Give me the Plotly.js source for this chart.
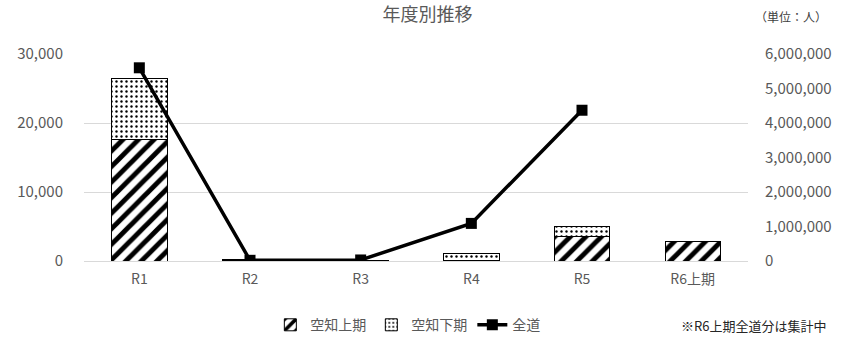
<!DOCTYPE html>
<html>
<head>
<meta charset="utf-8">
<script src="https://cdn.plot.ly/plotly-3.0.1.min.js"></script>
<style>html,body{margin:0;padding:0;background:#fff;}</style>
</head>
<body>
<div id="chart" style="width:855px;height:337px;"></div>
<script>
const categories = ["R1", "R2", "R3", "R4", "R5", "R6上期"];
const sorachiFirstHalf = [17660, 60, 40, 80, 3480, 2760];
const sorachiSecondHalf = [8810, 90, 60, 990, 1450, null];
const hokkaidoTotal = [5600000, 20000, 30000, 1090000, 4370000, null];
const leftTicks = [0, 10000, 20000, 30000];
const rightTicks = [0, 1000000, 2000000, 3000000, 4000000, 5000000, 6000000];

const FONT = '"Noto Sans CJK JP", "Noto Sans", sans-serif';
const GREY = '#595959';

const traces = [
  {
    type: 'bar', name: '空知上期', x: categories, y: sorachiFirstHalf,
    width: 0.5,
    marker: {color: 'white', line: {color: 'black', width: 1},
      pattern: {shape: '/', fgcolor: 'black', bgcolor: 'white', size: 11, solidity: 0.45}},
    hoverinfo: 'none'
  },
  {
    type: 'bar', name: '空知下期', x: categories, y: sorachiSecondHalf,
    width: 0.5,
    marker: {color: 'white', line: {color: 'black', width: 1},
      pattern: {shape: '.', fgcolor: 'black', bgcolor: 'white', size: 5, solidity: 0.18}},
    hoverinfo: 'none'
  },
  {
    type: 'scatter', mode: 'lines+markers', name: '全道', x: categories, y: hokkaidoTotal,
    yaxis: 'y2', connectgaps: false,
    line: {color: 'black', width: 3.5},
    marker: {symbol: 'square', size: 11, color: 'black'},
    hoverinfo: 'none'
  }
];

const layout = {
  width: 855, height: 337,
  margin: {l: 84, r: 107, t: 54, b: 76},
  paper_bgcolor: 'white', plot_bgcolor: 'white',
  font: {family: FONT, color: GREY, size: 12},
  barmode: 'stack',
  showlegend: true,
  title: {text: '年度別推移', x: 0.5, xref: 'container', y: 0.955, yref: 'container', yanchor: 'middle',
    font: {family: FONT, size: 18, color: GREY}},
  xaxis: {type: 'category', showgrid: false, zeroline: false, showline: false, ticks: '',
    tickfont: {size: 14, color: GREY}, ticklabelstandoff: 8},
  yaxis: {range: [0, 30000], tickvals: leftTicks, tickformat: ',d', showgrid: true, gridcolor: '#d9d9d9',
    gridwidth: 1, zeroline: true, zerolinecolor: '#d9d9d9', showline: false, ticks: '',
    tickfont: {size: 15, color: GREY}, ticklabelstandoff: 20},
  yaxis2: {overlaying: 'y', side: 'right', range: [0, 6000000], tickvals: rightTicks, tickformat: ',d',
    showgrid: false, zeroline: false, showline: false, ticks: '',
    tickfont: {size: 15, color: GREY}, ticklabelstandoff: 16},
  legend: {orientation: 'h', x: 0.477, xref: 'container', xanchor: 'center', y: 0.035, yref: 'container', yanchor: 'middle',
    font: {size: 14, color: GREY}, traceorder: 'normal', itemwidth: 30},
  annotations: [
    {text: '（単位：人）', xref: 'paper', yref: 'paper', x: 1.065, y: 1.179, xanchor: 'center', yanchor: 'middle',
      showarrow: false, font: {family: FONT, size: 12, color: '#404040'}},
    {text: '※R6上期全道分は集計中', xref: 'paper', yref: 'paper', x: 0.896, y: -0.314, xanchor: 'left', yanchor: 'middle',
      showarrow: false, font: {family: FONT, size: 13, color: '#262626'}}
  ]
};

Plotly.newPlot('chart', traces, layout, {staticPlot: true, displayModeBar: false});
</script>
</body>
</html>
